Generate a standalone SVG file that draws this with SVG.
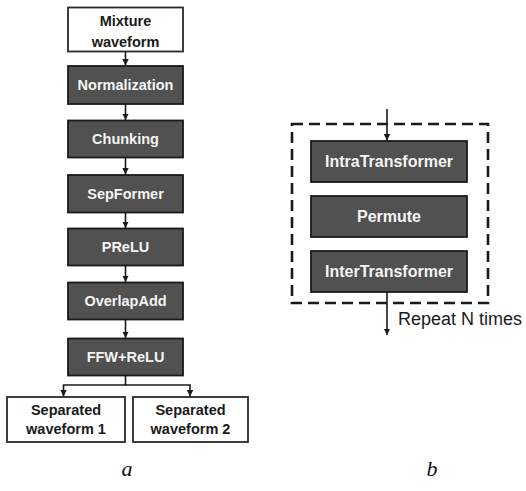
<svg xmlns="http://www.w3.org/2000/svg" width="526" height="491" viewBox="0 0 526 491">
  <style>
    .dark rect { fill: #515151; stroke: #1a1a1a; stroke-width: 1.8; }
    .light rect { fill: #ffffff; stroke: #2a2a2a; stroke-width: 1.8; }
    .dark text { fill: #f4f4f4; font-family: "Liberation Sans", Arial, sans-serif; font-weight: bold; font-size: 14.5px; text-anchor: middle; }
    .light text { fill: #1a1a1a; font-family: "Liberation Sans", Arial, sans-serif; font-weight: bold; font-size: 14.5px; text-anchor: middle; }
    .big text { font-size: 16px; }
    .wire { fill: none; stroke: #1a1a1a; stroke-width: 1.6; }
    .frame { fill: none; stroke: #1a1a1a; stroke-width: 2.6; stroke-dasharray: 11 6; }
    .note { fill: #1a1a1a; font-family: "Liberation Sans", Arial, sans-serif; font-size: 18px; }
    .cap { fill: #111; font-family: "Liberation Serif", "Times New Roman", serif; font-style: italic; font-size: 22px; text-anchor: middle; }
  </style>
  <defs>
    <marker id="tip" viewBox="0 0 10 10" refX="10" refY="5" markerWidth="4" markerHeight="4" orient="auto" markerUnits="strokeWidth">
      <path d="M0,0 L10,5 L0,10 z" fill="#1a1a1a"/>
    </marker>
  </defs>

  <!-- Panel a: processing pipeline -->
  <g id="mixture" class="light">
    <rect x="68" y="7.5" width="115" height="44"/>
    <text x="125.5" y="25.5">Mixture</text>
    <text x="125.5" y="46.5">waveform</text>
  </g>
  <g id="normalization" class="dark">
    <rect x="68" y="66" width="115" height="38"/>
    <text x="125.5" y="90">Normalization</text>
  </g>
  <g id="chunking" class="dark">
    <rect x="68" y="120.5" width="115" height="37"/>
    <text x="125.5" y="144">Chunking</text>
  </g>
  <g id="sepformer" class="dark">
    <rect x="68" y="175" width="115" height="37.5"/>
    <text x="125.5" y="198.5">SepFormer</text>
  </g>
  <g id="prelu" class="dark">
    <rect x="68" y="228.5" width="115" height="37"/>
    <text x="125.5" y="252">PReLU</text>
  </g>
  <g id="overlapadd" class="dark">
    <rect x="68" y="282.5" width="115" height="37"/>
    <text x="125.5" y="306">OverlapAdd</text>
  </g>
  <g id="ffw-relu" class="dark">
    <rect x="68" y="338.5" width="115" height="37"/>
    <text x="125.5" y="362">FFW+ReLU</text>
  </g>
  <g id="separated-1" class="light">
    <rect x="7" y="397" width="118" height="45"/>
    <text x="66" y="415">Separated</text>
    <text x="66" y="434">waveform 1</text>
  </g>
  <g id="separated-2" class="light">
    <rect x="133" y="397" width="115" height="45"/>
    <text x="190.5" y="415">Separated</text>
    <text x="190.5" y="434">waveform 2</text>
  </g>

  <!-- Panel b: repeated transformer block -->
  <g id="intra" class="dark big">
    <rect x="311" y="141" width="156" height="41"/>
    <text x="389" y="167">IntraTransformer</text>
  </g>
  <g id="permute" class="dark big">
    <rect x="311" y="196" width="156" height="41"/>
    <text x="389" y="222">Permute</text>
  </g>
  <g id="inter" class="dark big">
    <rect x="311" y="251" width="156" height="41"/>
    <text x="389" y="277">InterTransformer</text>
  </g>

  <g id="connectors">
    <line class="wire" x1="125.5" y1="51.5" x2="125.5" y2="65.5" marker-end="url(#tip)"/>
    <line class="wire" x1="125.5" y1="104" x2="125.5" y2="120" marker-end="url(#tip)"/>
    <line class="wire" x1="125.5" y1="157.5" x2="125.5" y2="174.5" marker-end="url(#tip)"/>
    <line class="wire" x1="125.5" y1="212.5" x2="125.5" y2="228" marker-end="url(#tip)"/>
    <line class="wire" x1="125.5" y1="265.5" x2="125.5" y2="282" marker-end="url(#tip)"/>
    <line class="wire" x1="125.5" y1="319.5" x2="125.5" y2="338" marker-end="url(#tip)"/>
    <polyline class="wire" points="125.5,375.5 125.5,385 63.5,385 63.5,396.5" marker-end="url(#tip)"/>
    <polyline class="wire" points="125.5,385 190,385 190,396.5" marker-end="url(#tip)"/>
    <line class="wire" x1="387" y1="109" x2="387" y2="140.5" marker-end="url(#tip)"/>
    <line class="wire" x1="387" y1="292" x2="387" y2="335" marker-end="url(#tip)"/>
  </g>

  <rect id="repeat-frame" class="frame" x="292" y="124" width="196" height="179"/>
  <text class="note" x="398" y="325">Repeat N times</text>

  <text class="cap" x="127" y="476">a</text>
  <text class="cap" x="432" y="476">b</text>
</svg>
